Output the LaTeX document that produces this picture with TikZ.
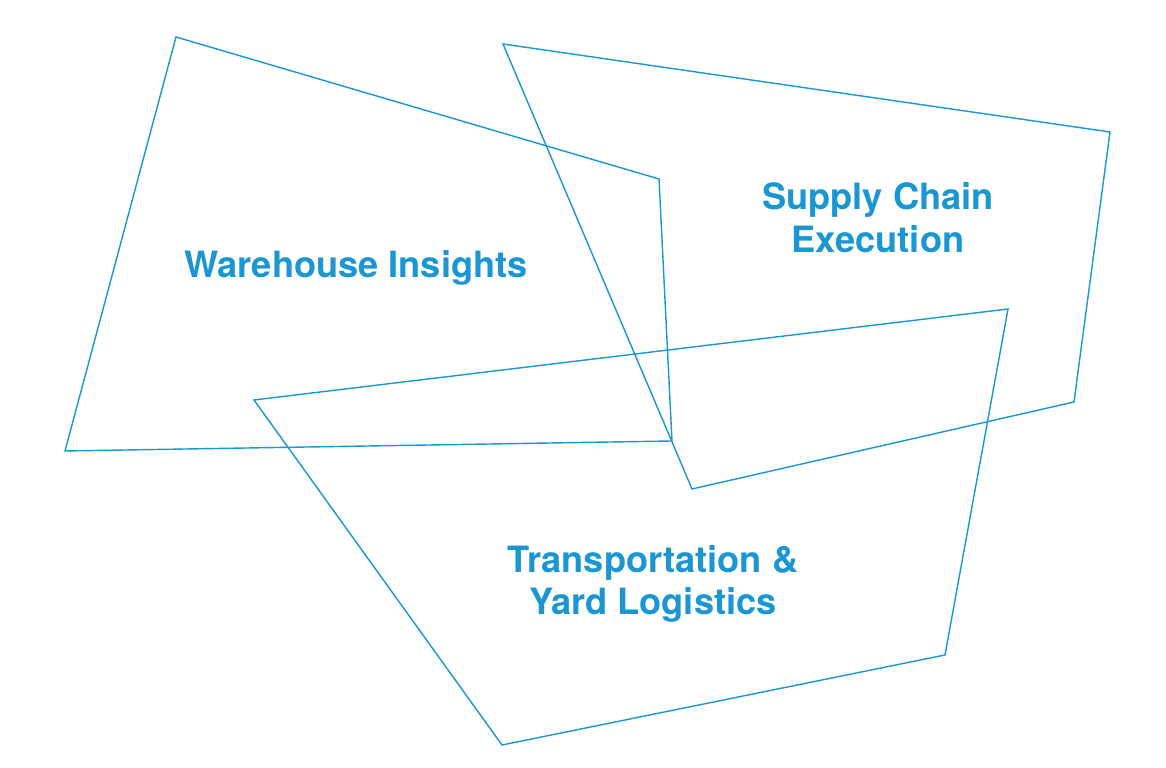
\documentclass[tikz,border=0pt]{standalone}
\usepackage{fontspec}
\setmainfont{TeX Gyre Heros}
\definecolor{areablue}{HTML}{1A96D2}

\begin{document}
\begin{tikzpicture}[x=0.01cm, y=-0.01cm,
        area/.style={draw=areablue, line width=0.4pt},
        title/.style={text=areablue, font=\fontsize{10.3}{12.2}\selectfont\bfseries, align=center}]
        \useasboundingbox (0,0) rectangle (1166,768);
        \draw[area] (176,37) -- (659,179) -- (672,441) -- (65,451) -- cycle;
        \draw[area] (503,44) -- (1110,132) -- (1074,402) -- (692,489) -- cycle;
        \draw[area] (254,400) -- (1008,309) -- (945,655) -- (502,745) -- cycle;
        \draw (356,268) node(WI) [title]
        {Warehouse Insights};
        \draw (878,218) node(SCE) [title]
        {Supply Chain\\Execution};
        \draw (653,584) node(TYL) [title]
        {Transportation \&\\Yard Logistics};
    \end{tikzpicture}
\end{document}
